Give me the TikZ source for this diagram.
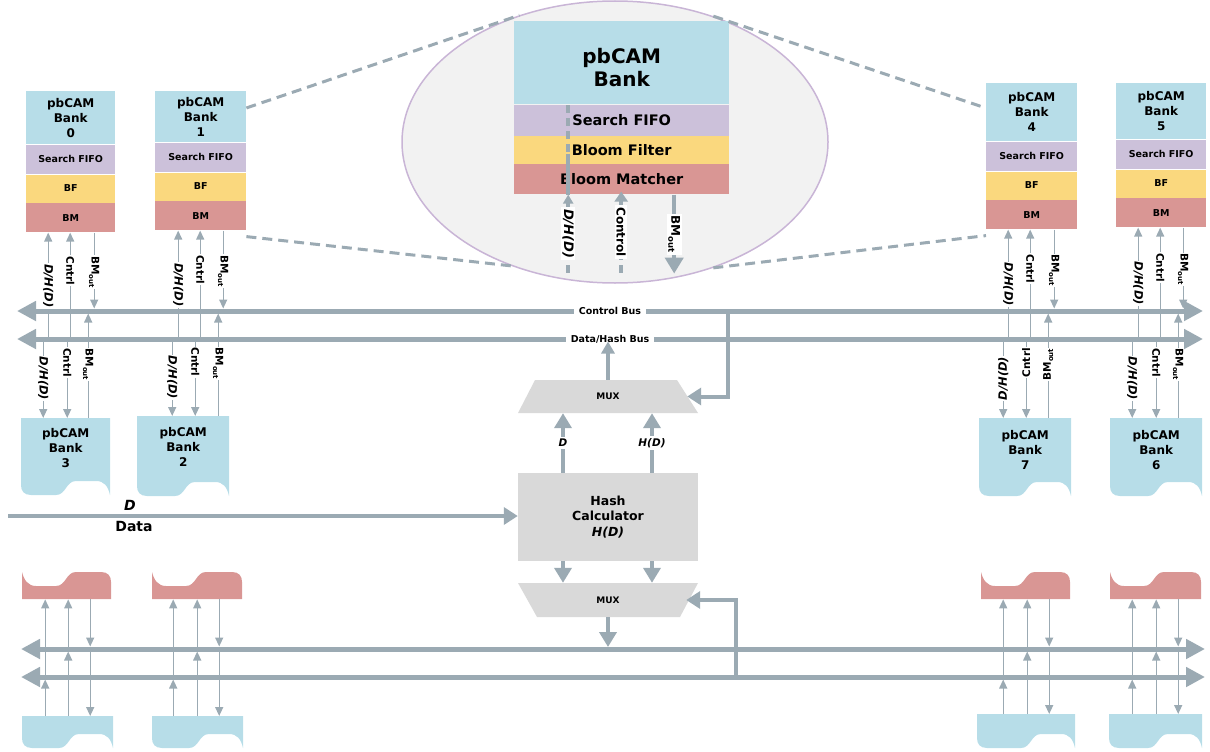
\documentclass[tikz,border=0pt]{standalone}
\usepackage{fontspec}
\setmainfont{DejaVu Sans}
\usetikzlibrary{arrows.meta,calc,shapes.geometric}
\definecolor{hdrblue}{HTML}{B7DDE8}
\definecolor{fifo}{HTML}{CCC1DA}
\definecolor{bfy}{HTML}{FAD87E}
\definecolor{bmr}{HTML}{D99694}
\definecolor{ag}{HTML}{9BAAB3}
\definecolor{mg}{HTML}{D9D9D9}
\definecolor{ellf}{HTML}{F2F2F2}
\definecolor{elld}{HTML}{C9B5D6}
\newcommand\DHD{{\fontsize{11.5}{12}\selectfont\itshape D/H(D)}}
\newcommand\BMo{BM\raisebox{-2.4pt}{\fontsize{7}{7}\selectfont out}}
\newcommand\BigBMo{BM\raisebox{-3.2pt}{\fontsize{8.5}{9}\selectfont out}}
% top bank: prefix, x, y, width, header height, number
\newcommand\TopBank[6]{%
  \node[hdr, minimum width=#4pt, minimum height=#5pt] (#1h) at (#2,#3) {pbCAM\\Bank\\#6};
  \node[seg, fill=fifo, minimum width=#4pt, minimum height=29.5pt] (#1s) at (#1h.south west) {Search FIFO};
  \node[seg, fill=bfy, minimum width=#4pt, minimum height=28pt] (#1f) at (#1s.south west) {BF};
  \node[seg, fill=bmr, minimum width=#4pt, minimum height=29.5pt] (#1m) at (#1f.south west) {BM};}
% blue tape with wavy bottom: name, x, y, w, h
\newcommand\TapeBlue[5]{%
  \begin{scope}[shift={(#2,#3)}]
    \fill[hdrblue] (0,0) -- (#4,0) -- (#4,#5)
      .. controls (#4-2,#5-9) and (#4-6,#5-14) .. (#4-14,#5-14) -- (#4-34,#5-14)
      .. controls (#4-44,#5-14) and (#4-44,#5) .. (#4-54,#5) -- (10,#5)
      .. controls (3,#5) and (0,#5-4) .. (0,#5-10) -- cycle;
    \node[inner sep=0pt, minimum width=#4pt, minimum height=#5pt, anchor=north west] (#1) at (0,0) {};
  \end{scope}}
% red tape with wavy top: name, x, y, w, h
\newcommand\TapeRed[5]{%
  \begin{scope}[shift={(#2,#3)}]
    \fill[bmr] (0,0) .. controls (2,8) and (6,14) .. (14,14) -- (34,14)
      .. controls (44,14) and (44,0) .. (54,0) -- (#4-10,0)
      .. controls (#4-3,0) and (#4,4) .. (#4,10) -- (#4,#5) -- (0,#5) -- cycle;
    \node[inner sep=0pt, minimum width=#4pt, minimum height=#5pt, anchor=north west] (#1) at (0,0) {};
  \end{scope}}
\newcommand\Ports[5]{%
  \coordinate (#2a) at ($(#1)+(#3,0)$);
  \coordinate (#2b) at ($(#1)+(#4,0)$);
  \coordinate (#2c) at ($(#1)+(#5,0)$);}
\newcommand\TopPorts[6]{%
  \Ports{#1}{#2}{#3}{#4}{#5}
  \draw[tarr] (#2a |- dbus) -- (#2a) node[plab, rotate=#6, pos=.5] (#2la) {\DHD};
  \draw[tarr] (#2b |- dbus) -- (#2b) node[plab, rotate=#6, pos=.64] (#2lb) {Cntrl};
  \draw[tarr, shorten >=2.5pt] (#2c) -- (#2c |- cbus) node[plab, rotate=#6, pos=.5] (#2lc) {\BMo};}
\newcommand\MidPorts[6]{%
  \Ports{#1}{#2}{#3}{#4}{#5}
  \draw[tarr] (#2a |- dbus) -- (#2a) node[plab, rotate=#6, pos=.5] (#2la) {\DHD};
  \draw[tarr] (#2b |- dbus) -- (#2b) node[plab, rotate=#6, pos=.3] (#2lb) {Cntrl};
  \draw[tarr, shorten >=2.5pt] (#2c) -- (#2c |- cbus) node[plab, rotate=#6, pos=.5] (#2lc) {\BMo};}
\newcommand\LowPorts[6]{%
  \Ports{#1}{#2}{#3}{#4}{#5}
  \draw[tarr, shorten >=2.5pt] (#2a |- #6.north) -- (#2a |- ldbus);
  \draw[tarr] (#2a |- ldbus) -- (#2a);
  \draw[tarr, shorten >=2.5pt] (#2b |- #6.north) -- (#2b |- lcbus);
  \draw[tarr] (#2b |- lcbus) -- (#2b);
  \draw[tarr, shorten >=2.5pt] (#2c) -- (#2c |- lcbus);
  \draw[tarr] (#2c |- lcbus) -- (#2c |- #6.north);}
\begin{document}
\begin{tikzpicture}[x=1pt, y=-1pt,
  hdr/.style={fill=hdrblue, inner sep=0pt, anchor=north west, align=center,
    font=\fontsize{12}{15}\selectfont\bfseries},
  seg/.style={inner sep=0pt, anchor=north west, font=\fontsize{9.5}{11}\selectfont\bfseries},
  lbl/.style={inner sep=0pt, align=center, font=\fontsize{12}{15}\selectfont\bfseries},
  tarr/.style={draw=ag, line width=1.4pt, -{Triangle[length=9pt,width=8pt]}},
  plab/.style={fill=white, inner xsep=1pt, inner ysep=0.6pt, font=\fontsize{10.5}{11}\selectfont\bfseries},
  bus/.style={draw=ag, line width=5pt, {Triangle[length=19pt,width=19pt]}-{Triangle[length=19pt,width=19pt]}},
  buslab/.style={fill=white, inner xsep=5pt, inner ysep=1pt, font=\fontsize{9.5}{11}\selectfont\bfseries},
  med/.style={draw=ag, line width=4.5pt, -{Triangle[length=15pt,width=17pt]}},
  medin/.style={draw=ag, line width=4pt, -{Triangle[length=14pt,width=17pt]}},
  mux/.style={inner sep=0pt, minimum width=180pt, minimum height=33pt, font=\fontsize{9}{10}\selectfont\bfseries},
  slab/.style={fill=white, inner xsep=1pt, inner ysep=2pt, font=\fontsize{10.5}{11}\selectfont\bfseries\itshape},
  zdash/.style={draw=ag, line width=3pt, dash pattern=on 10pt off 6pt},
  bigdash/.style={draw=ag, line width=4.5pt, dash pattern=on 8pt off 5pt},
  bigline/.style={draw=ag, line width=4.5pt},
  blab/.style={fill=white, inner xsep=2pt, inner ysep=1.5pt, font=\fontsize{12}{13}\selectfont\bfseries}]
\useasboundingbox (0,0) rectangle (1210,752);

% ---------- zoom ellipse ----------
\node[ellipse, draw=elld, fill=ellf, line width=1.5pt, minimum width=426pt, minimum height=282pt, inner sep=0pt] (zoomell) at (615,142) {};
\node[hdr, minimum width=215pt, minimum height=83pt] (Bh) at (514,21) {};
\node[inner sep=0pt, align=center, font=\fontsize{20}{23}\selectfont\bfseries] (Bht) at ($(Bh.center)+(0,5)$) {pbCAM\\Bank};
\node[seg, fill=fifo, minimum width=215pt, minimum height=31pt, font=\fontsize{14.5}{16}\selectfont\bfseries] (Bs) at (Bh.south west) {Search FIFO};
\node[seg, fill=bfy, minimum width=215pt, minimum height=28pt, font=\fontsize{14.5}{16}\selectfont\bfseries] (Bf) at (Bs.south west) {Bloom Filter};
\node[seg, fill=bmr, minimum width=215pt, minimum height=30pt, font=\fontsize{14.5}{16}\selectfont\bfseries] (Bm) at (Bf.south west) {Bloom Matcher};

\coordinate (ea) at ($(Bm.south)+(-53.5,0)$);
\coordinate (eb) at ($(Bm.south)+(-0.5,-3)$);
\coordinate (ec) at ($(Bm.south)+(52.5,0)$);
\coordinate (ea0) at ($(Bs.north)+(-53.5,1)$);
\coordinate (ea1) at ($(ea)+(0,-41)$);
\coordinate (eaE) at ($(ea)+(0,78)$);
\coordinate (ebE) at ($(eb)+(0,81)$);
\coordinate (ecE) at ($(ec)+(0,79)$);
\draw[bigdash] (ea0) -- (ea1);
\draw[bigline] (ea1) -- (ea);
\draw[bigdash, -{Triangle[length=9pt,width=10pt]}] (eaE) -- (ea)
  node[blab, pos=.5, rotate=-90, font=\fontsize{13}{14}\selectfont\bfseries\itshape] (eDH) {D/H(D)};
\draw[bigdash, -{Triangle[length=10pt,width=13pt]}] (ebE) -- (eb)
  node[blab, pos=.5, rotate=-90] (eCtl) {Control};
\draw[bigline, -{Triangle[length=16pt,width=18pt]}] (ec) -- (ecE)
  node[blab, pos=.5, rotate=-90] (eBM) {\BigBMo};

% ---------- top banks ----------
\TopBank{b0}{26}{91}{89}{53}{0}
\TopBank{b1}{155}{91}{91}{51}{1}
\TopBank{b4}{986}{83}{91}{58}{4}
\TopBank{b5}{1116}{83}{90}{56}{5}

% zoom lines
\draw[zdash] ($(b1h.north east)!0.33!(b1h.south east)$) -- (zoomell.127);
\draw[zdash] ($(b1m.south east)+(0,6)$) -- (zoomell.230);
\draw[zdash] (zoomell.52) -- ($(b4h.north west)!0.43!(b4h.south west)$);
\draw[zdash] (zoomell.-52) -- ($(b4m.south west)+(0,6)$);

% ---------- bus coordinates ----------
\coordinate (cbus) at (17,311);  \coordinate (cbusE) at (1203,311);
\coordinate (dbus) at (17,339);  \coordinate (dbusE) at (1203,339);
\coordinate (lcbus) at (21,649); \coordinate (lcbusE) at (1205,649);
\coordinate (ldbus) at (21,677); \coordinate (ldbusE) at (1205,677);

% ---------- middle banks ----------
\TapeBlue{m3}{21}{418}{89}{77}
\TapeBlue{m2}{137}{416}{92}{80}
\TapeBlue{m7}{979}{418}{92}{78}
\TapeBlue{m6}{1110}{418}{92}{78}
\node[lbl] (m3t) at ($(m3.north)+(0,30)$) {pbCAM\\Bank\\3};
\node[lbl] (m2t) at ($(m2.north)+(0,31)$) {pbCAM\\Bank\\2};
\node[lbl] (m7t) at ($(m7.north)+(0,32)$) {pbCAM\\Bank\\7};
\node[lbl] (m6t) at ($(m6.north)+(0,32)$) {pbCAM\\Bank\\6};

% ---------- lower banks ----------
\TapeRed{r1}{22}{572}{89}{27}
\TapeRed{r2}{152}{572}{90}{27}
\TapeRed{r3}{981}{572}{89}{27}
\TapeRed{r4}{1110}{572}{91}{27}
\TapeBlue{u1}{22}{716}{91}{32}
\TapeBlue{u2}{152}{716}{91}{32}
\TapeBlue{u3}{977}{714}{98}{34}
\TapeBlue{u4}{1109}{714}{93}{34}

% ---------- thin port arrows ----------
\TopPorts{b0m.south}{p0}{-22.5}{-0.5}{23.5}{-90}
\TopPorts{b1m.south}{p1}{-22.5}{-0.5}{22.5}{-90}
\TopPorts{b4m.south}{p4}{-23.5}{-1.5}{22.5}{-90}
\TopPorts{b5m.south}{p5}{-23}{-1}{22}{-90}
\MidPorts{m3.north}{q3}{-22.5}{1.5}{22.5}{-90}
\MidPorts{m2.north}{q2}{-11}{12}{35}{-90}
\MidPorts{m7.north}{q7}{-22}{1}{23}{90}
\MidPorts{m6.north}{q6}{-24}{0}{22}{-90}
\LowPorts{r1.south}{s1}{-21.5}{1.5}{23.5}{u1}
\LowPorts{r2.south}{s2}{-24}{0}{22}{u2}
\LowPorts{r3.south}{s3}{-22.5}{1.5}{23.5}{u3}
\LowPorts{r4.south}{s4}{-23.5}{0.5}{22.5}{u4}

% ---------- buses ----------
\draw[bus] (cbus) -- (cbusE) node[buslab, pos=.5] (cbl) {Control Bus};
\draw[bus] (dbus) -- (dbusE) node[buslab, pos=.5] (dbl) {Data/Hash Bus};
\draw[bus] (lcbus) -- (lcbusE);
\draw[bus] (ldbus) -- (ldbusE);

% ---------- MUX and hash ----------
\fill[mg] (518,413) -- (535,380) -- (677,380) -- (698,413) -- cycle;
\node[mux] (mux1) at (608,396.5) {MUX};
\fill[mg] (518,583) -- (698,583) -- (680,617) -- (537,617) -- cycle;
\node[mux, minimum height=34pt] (mux2) at (608,600) {MUX};
\node[fill=mg, minimum width=180pt, minimum height=88pt, inner sep=0pt, align=center,
  font=\fontsize{12.5}{15.5}\selectfont\bfseries] (hash) at (608,517) {Hash\\Calculator\\{\itshape H(D)}};

\coordinate (hl) at ($(hash.north)+(-45,0)$);
\coordinate (hr) at ($(hash.north)+(44,0)$);
\draw[med] (hl) -- (hl |- mux1.south) node[slab, pos=.5] (lD) {D};
\draw[med] (hr) -- (hr |- mux1.south) node[slab, pos=.5] (lHD) {H(D)};
\draw[med] (hl |- hash.south) -- (hl |- mux2.north);
\draw[med] (hr |- hash.south) -- (hr |- mux2.north);
\draw[draw=ag, line width=3.5pt, -{Triangle[length=12pt,width=13pt]}, shorten >=2.5pt] (mux1.north) -- (mux1.north |- dbus);
\draw[med, shorten >=2pt] (mux2.south) -- (mux2.south |- lcbus);

\coordinate (ctap) at (728,311);
\draw[medin] (ctap) |- ($(mux1.east)+(-11,0)$);
\coordinate (dtap) at (736,677);
\draw[medin] (dtap) |- ($(mux2.east)+(-12,0)$);

\coordinate (din) at (8,516);
\draw[medin] (din) -- (din -| hash.west);
\node[inner sep=0pt, font=\fontsize{14}{16}\selectfont\bfseries\itshape] (dD) at (130,505) {D};
\node[inner sep=0pt, font=\fontsize{14}{16}\selectfont\bfseries] (dData) at (134,526) {Data};
\end{tikzpicture}
\end{document}
